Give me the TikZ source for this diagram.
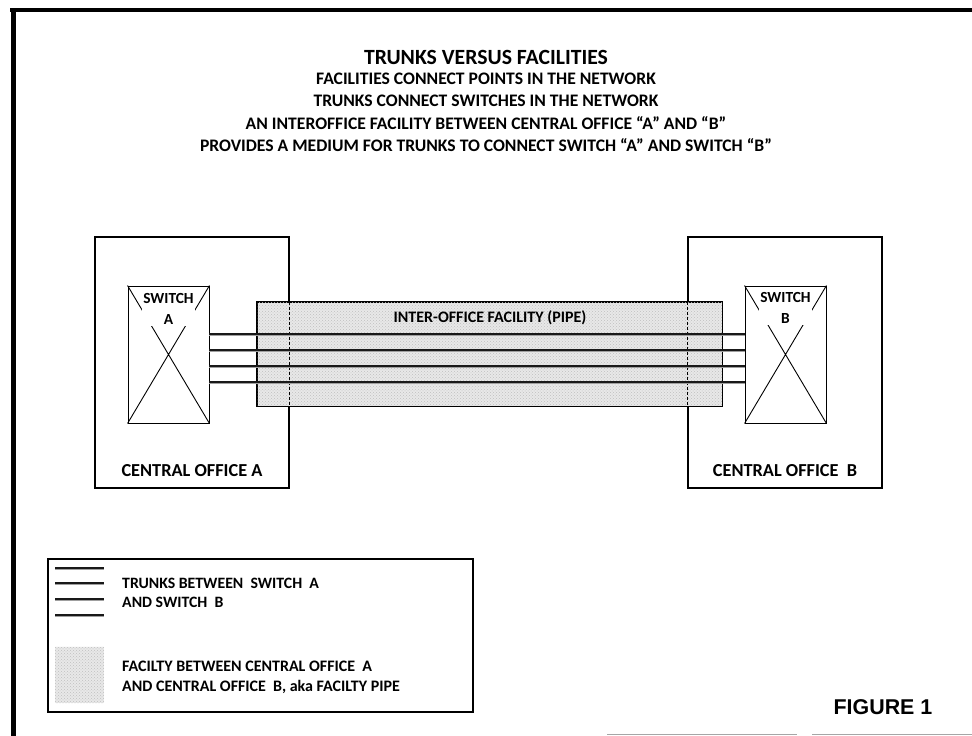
\documentclass[tikz,border=0pt]{standalone}
\usepackage{fontspec}
\setmainfont{Carlito}
\newfontfamily\arialfont{Liberation Sans}
\usetikzlibrary{patterns,calc}
\begin{document}
\begin{tikzpicture}[x=1pt,y=-1pt,
  every node/.style={font=\bfseries},
  cobox/.style={draw, line width=1.2pt, minimum width=194pt, minimum height=251pt, inner sep=0pt},
  swbox/.style={draw, line width=0.9pt, minimum width=81pt, minimum height=137pt, inner sep=0pt},
  trunkdark/.style={line width=1.7pt, black!90},
  trunklight/.style={line width=0.8pt, gray!75},
  lbl/.style={font=\bfseries\fontsize{16}{18}\selectfont, inner sep=0pt},
  sublbl/.style={font=\bfseries\fontsize{17.6}{19}\selectfont, inner sep=0pt}
]
\useasboundingbox (0,0) rectangle (972,736);
% frame
\draw[line width=4pt] (10,10) -- (972,10);
\draw[line width=5pt] (13,8) -- (13,736);
\draw[line width=0.8pt, gray!70] (607,734) -- (797,734);
\draw[line width=0.8pt, gray!70] (812,734) -- (972,734);

% titles
\node[font=\bfseries\fontsize{21.7}{24}\selectfont, inner sep=0pt] (title) at (486,57) {TRUNKS VERSUS FACILITIES};
\node[sublbl] (s1) at (486,79) {FACILITIES CONNECT POINTS IN THE NETWORK};
\node[sublbl] (s2) at (486,101) {TRUNKS CONNECT SWITCHES IN THE NETWORK};
\node[sublbl] (s3) at (486,123) {AN INTEROFFICE FACILITY BETWEEN CENTRAL OFFICE ``A'' AND ``B''};
\node[sublbl] (s4) at (486,145) {PROVIDES A MEDIUM FOR TRUNKS TO CONNECT SWITCH ``A'' AND SWITCH ``B''};

% central offices
\node[cobox] (coA) at (192,362.5) {};
\node[cobox] (coB) at (785,362.5) {};
\node[lbl, font=\bfseries\fontsize{18.3}{20}\selectfont] (coAl) at (192,471) {CENTRAL OFFICE A};
\node[lbl, font=\bfseries\fontsize{18.3}{20}\selectfont] (coBl) at (785,471) {CENTRAL OFFICE \ B};

% pipe
\node[draw, line width=0.8pt, fill=gray!18, minimum width=465pt, minimum height=104pt, inner sep=0pt] (pipe) at (489.5,354) {};
\fill[pattern=crosshatch dots, pattern color=gray!50] (pipe.north west) rectangle (pipe.south east);
\draw[line width=0.8pt] (pipe.north west) rectangle (pipe.south east);
\draw[line width=1.2pt, dash pattern=on 3pt off 2pt] (coA.east |- pipe.north) -- (coA.east |- pipe.south);
\draw[line width=1.2pt, dash pattern=on 3pt off 2pt] (coB.west |- pipe.north) -- (coB.west |- pipe.south);
\node[lbl] (pipel) at (490,318) {INTER-OFFICE FACILITY (PIPE)};

% switches
\node[swbox, fill=white] (swA) at (168.5,354.5) {};
\node[swbox, fill=white] (swB) at (785.5,354.5) {};
\draw[line width=0.9pt] (swA.north west) -- (swA.south east) (swA.north east) -- (swA.south west);
\draw[line width=0.9pt] (swB.north west) -- (swB.south east) (swB.north east) -- (swB.south west);
\node[lbl, fill=white, inner sep=1pt, align=center, font=\bfseries\fontsize{15.4}{21}\selectfont] (swAl) at (168.5,309) {SWITCH\\A};
\node[lbl, fill=white, inner sep=1pt, align=center, font=\bfseries\fontsize{15.4}{21}\selectfont] (swBl) at (785.5,308) {SWITCH\\B};

% trunks
\foreach \dy [count=\i] in {-20.5,-4.5,11.5,27.5} {
  \coordinate (ta\i) at ($(swA.east)+(0,\dy)$);
  \coordinate (tb\i) at ($(swB.west)+(0,\dy)$);
}
\foreach \i in {1,2,3,4} {
  \draw[trunklight] ([yshift=-1.7pt]ta\i) -- ([yshift=-1.7pt]tb\i);
  \draw[trunkdark] (ta\i) -- (tb\i);
}

% legend
\node[draw, line width=1.2pt, minimum width=425pt, minimum height=153pt, inner sep=0pt] (leg) at (260.5,635.5) {};
\foreach \yy [count=\i] in {568,583,599,615} {
  \coordinate (la\i) at (55,\yy);
  \coordinate (lb\i) at (104,\yy);
  \draw[trunklight] ([yshift=-1.5pt]la\i) -- ([yshift=-1.5pt]lb\i);
  \draw[trunkdark] (la\i) -- (lb\i);
}
\node[lbl, align=left, anchor=west, font=\bfseries\fontsize{15.8}{19}\selectfont] (lt1) at (122,592.5) {TRUNKS BETWEEN \ SWITCH \ A\\AND SWITCH \ B};
\node[fill=gray!18, minimum width=49pt, minimum height=56pt, inner sep=0pt] (lsq) at (79.5,675) {};
\fill[pattern=crosshatch dots, pattern color=gray!50] (lsq.north west) rectangle (lsq.south east);
\node[lbl, align=left, anchor=west, font=\bfseries\fontsize{16}{20}\selectfont] (lt2) at (122,677) {FACILTY BETWEEN CENTRAL OFFICE \ A\\AND CENTRAL OFFICE \ B, aka FACILTY PIPE};

% figure label
\node[font=\arialfont\bfseries\fontsize{21.4}{23}\selectfont, inner sep=0pt] (fig) at (883,707) {FIGURE 1};
\end{tikzpicture}
\end{document}
